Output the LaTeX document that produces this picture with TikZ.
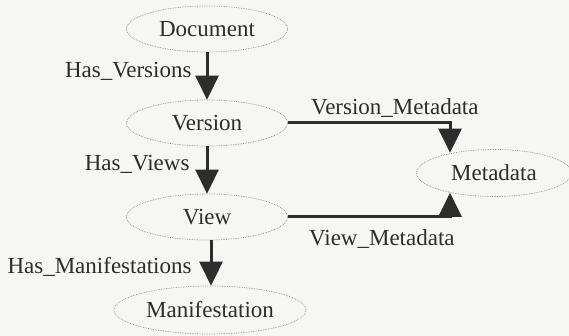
\documentclass[tikz,border=0pt]{standalone}
\usepackage{fontspec}
\setmainfont{Liberation Serif}
\usetikzlibrary{shapes.geometric,arrows.meta}
\definecolor{ink}{RGB}{45,45,45}
\definecolor{paper}{RGB}{246,246,244}
\tikzset{
  ent/.style={ellipse,draw=gray!90,densely dotted,line width=0.7pt,minimum width=161pt,minimum height=46pt,inner sep=0pt,text=ink,font=\fontsize{23}{25}\selectfont},
  conn/.style={draw=ink,line width=3pt,-{Triangle[width=23pt,length=24pt]}},
  lbl/.style={text=ink,font=\fontsize{23}{25}\selectfont,inner sep=2pt}
}
\begin{document}
\begin{tikzpicture}[x=1pt,y=-1pt]
		\fill[paper] (0,0) rectangle (569,336);
		\useasboundingbox (0,0) rectangle (569,336);
		%ENTITIES
		\node[ent] (doc) at (207,29) {Document};
		\node[ent] (ver) at (207,123) {Version};
		\node[ent] (view) at (207,217) {View};
		\node[ent,minimum width=192pt,minimum height=48pt] (man) at (210,310) {Manifestation};
		\node[ent,minimum width=155pt,minimum height=47pt] (meta) at (494,173) {Metadata};
		
		%LINKS
		\draw[conn] (doc) -- (ver) node[lbl,left=12pt,pos=0.4]{Has\_Versions};
		\draw[conn] (ver) -- (view) node[lbl,left=14pt,pos=0.38]{Has\_Views};
		\draw[conn] (view.south -| 211,0) -- (man.north -| 211,0) node[lbl,left=16pt,pos=0.58]{Has\_Manifestations};
		\draw[conn] (ver.east) -| ([xshift=-44pt,yshift=-3.5pt]meta.north) node[lbl,above=2pt,pos=0.33]{Version\_Metadata};
		\draw[conn] (view.east) -| ([xshift=-44pt,yshift=4pt]meta.south) node[lbl,below=9pt,pos=0.29]{View\_Metadata};
	\end{tikzpicture}
\end{document}
